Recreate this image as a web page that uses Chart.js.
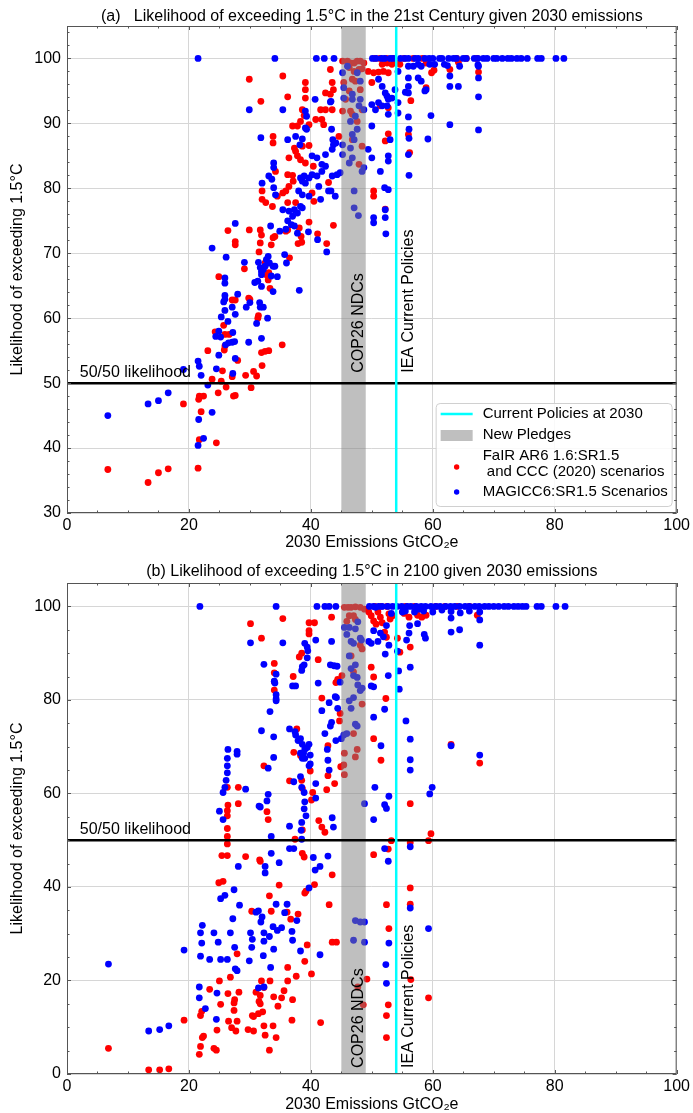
<!DOCTYPE html>
<html>
<head>
<meta charset="utf-8">
<script src="https://cdn.jsdelivr.net/npm/chart.js@4.4.1/dist/chart.umd.min.js"></script>
<style>
body{margin:0;background:#fff;}
canvas{display:block;}
</style>
</head>
<body>
<canvas id="chartA" width="693" height="556"></canvas>
<canvas id="chartB" width="693" height="557"></canvas>
<script>
// ticks
const xTicks = [0, 20, 40, 60, 80, 100];
const yTicksA = [30, 40, 50, 60, 70, 80, 90, 100];
const yTicksB = [0, 20, 40, 60, 80, 100];

// reference markers
const pledgeBand = [45, 49];
const currentPolicies = 54;
const fiftyFifty = 50;

const legendLabels = ['Current Policies at 2030', 'New Pledges', 'FaIR AR6 1.6:SR1.5', ' and CCC (2020) scenarios', 'MAGICC6:SR1.5 Scenarios'];

// (a) likelihood over the 21st century: [2030 emissions, likelihood %]
const fairA = [
[6.7,36.7],[13.3,34.7],[15.0,36.2],[16.6,36.8],[21.5,36.9],[19.1,46.8],[21.6,47.5],[21.7,48.0],[22.4,48.0],[22.0,45.6],[21.7,41.3],[24.5,40.8],[23.1,55.0],[23.8,50.6],[24.8,48.5],[25.3,50.3],[25.5,51.9],[26.1,49.4],[27.3,48.0],[27.6,48.1],[27.1,51.0],[28.0,53.5],[29.3,51.2],[30.6,51.8],[31.1,51.1],[30.2,49.3],[32.0,52.7],[31.9,54.7],[32.5,54.9],[33.1,55.0],[35.3,55.9],[24.3,57.9],[25.9,57.5],[25.7,58.9],[25.9,55.7],[25.8,55.1],[26.6,57.5],[27.1,62.8],[27.6,62.8],[30.0,62.9],[29.8,63.1],[31.3,60.0],[31.4,60.4],[24.9,66.4],[29.1,67.6],[27.6,71.8],[27.6,71.3],[26.4,73.5],[29.9,73.6],[31.7,73.6],[31.9,72.8],[31.7,71.6],[33.5,71.3],[33.8,72.4],[34.1,72.6],[31.5,70.2],[32.5,68.5],[32.7,66.7],[33.0,65.9],[33.3,64.6],[36.2,73.6],[38.1,73.9],[38.5,71.7],[37.9,71.5],[38.4,72.6],[41.1,73.0],[42.6,71.5],[43.7,74.3],[36.5,69.3],[33.1,67.0],
[29.9,96.8],[35.4,97.3],[31.8,93.4],[36.2,94.1],[43.2,98.3],[39.1,96.3],[39.1,95.2],[39.1,93.9],[42.4,94.7],[43.5,96.3],[43.7,95.2],[43.2,94.5],[41.6,92.1],[42.4,92.1],[43.5,92.1],[40.8,90.6],[41.8,90.6],[42.1,89.8],[38.6,92.1],[38.9,91.2],[38.3,90.3],[37.8,89.6],[37.0,89.6],[39.7,89.8],[33.8,88.0],[33.8,87.0],[37.3,86.2],[37.5,85.7],[37.8,85.0],[38.3,84.4],[39.1,83.9],[39.7,86.6],[38.6,86.5],[36.4,84.7],[34.2,82.6],[36.2,82.1],[37.0,82.0],[37.1,81.1],[36.4,80.3],[35.4,79.3],[34.5,78.8],[35.9,79.6],[36.2,77.8],[32.0,79.6],[32.0,78.3],[32.6,77.8],[33.7,77.2],[37.5,77.8],[40.5,78.0],[42.9,80.9],[35.9,73.4],[39.7,74.8],[40.2,79.3],[40.4,83.4],
[50.0,96.3],[51.4,92.7],[52.7,92.4],[52.7,88.4],[52.2,87.3],[56.0,88.3],[56.2,85.5],[50.3,79.6],[50.3,78.8],[52.2,76.8],[59.8,97.8],[62.8,98.3],[67.5,97.9],[49.4,98.0],[50.3,97.8],[51.1,97.9],[51.9,98.0],[52.7,97.8],[51.7,99.1],[52.5,99.3],[53.3,99.1],[54.1,99.3],[54.6,99.1],[58.9,99.3],[64.2,99.4],[56.4,93.5],[58.9,95.5],[60.2,98.2],
[45.2,99.6],[46.0,99.6],[46.5,99.3],[47.1,99.3],[47.6,99.6],[48.1,99.6],[48.7,99.3],[46.3,98.6],[47.1,98.0],[47.9,98.3],[48.4,98.4],[46.8,96.8],[45.4,96.3],[47.3,96.5],[46.3,95.0],[48.1,95.2],[45.7,93.7],[45.2,91.9],[46.5,91.9],[46.8,91.4],[48.4,92.1],[47.6,90.3],[48.4,86.5],[47.9,83.7],[44.6,88.0],[46.8,87.5],
[50.5,100],[51.3,100],[52.4,100],[53.5,100],[55.3,100],[56.8,100],[58.3,100],[63.9,100],[65.5,100],[67.2,100]
];

const magiccA = [
[6.7,45.0],[13.3,46.8],[15.0,47.3],[16.6,48.5],[19.1,52.1],[21.5,53.4],[21.7,52.6],[22.0,51.2],[23.1,49.7],[21.6,44.4],[23.8,45.5],[22.4,41.5],[21.5,40.4],[24.5,52.2],[24.9,54.3],[27.2,51.5],[27.6,53.8],[29.8,56.3],[31.9,56.9],[24.9,58.0],[24.4,57.2],[25.2,57.1],[26.0,55.9],[26.5,56.2],[27.1,56.3],[27.5,56.4],[27.2,57.8],[26.4,59.5],[25.3,60.2],[27.6,60.6],[25.9,61.2],[25.7,62.5],[25.9,62.9],[25.9,63.5],[27.1,61.7],[28.0,63.7],[29.4,61.7],[30.0,62.4],[31.1,59.2],[31.6,62.4],[31.7,61.7],[32.2,61.7],[32.9,60.0],[25.9,66.2],[25.9,65.4],[26.1,69.4],[23.8,70.8],[27.6,74.6],[29.1,68.6],[30.8,65.5],[31.3,65.7],[31.9,64.9],[31.4,68.6],[31.7,67.8],[31.9,67.2],[32.2,67.5],[32.5,68.0],[32.7,69.0],[33.0,69.5],[33.2,68.5],[33.5,66.5],[33.8,68.0],[34.1,68.0],[33.8,64.1],[31.9,66.7],[34.5,66.4],[33.4,74.2],[34.9,73.4],[35.7,69.8],[36.0,68.5],[38.1,64.3],[41.1,72.1],[42.6,70.2],[39.6,73.3],[36.2,75.0],[36.8,74.4],[37.3,74.2],
[21.5,100],[34.1,100],[40.9,100],[42.2,100],[43.8,100],[40.7,93.7],[43.2,93.3],[39.1,91.9],[39.3,91.1],[39.1,89.3],[39.3,89.1],[43.4,89.1],[29.9,92.1],[35.4,92.1],[31.8,87.8],[36.2,87.5],[37.5,88.0],[38.6,87.6],[38.2,86.7],[40.2,85.0],[41.0,84.7],[42.4,85.2],[43.5,86.0],[43.7,86.7],[41.8,83.7],[42.4,83.4],[41.8,82.6],[40.2,82.1],[41.0,81.9],[43.5,81.9],[44.3,82.1],[44.8,82.4],[38.9,81.9],[38.6,81.1],[39.1,80.8],[38.3,81.6],[39.7,81.6],[32.0,80.8],[33.1,81.9],[33.6,81.4],[33.9,80.1],[34.2,79.0],[33.9,83.9],[33.9,83.2],[38.0,79.6],[38.6,79.0],[39.7,78.8],[42.9,79.6],[41.3,80.3],[41.6,78.3],[37.3,76.7],[37.8,76.2],[38.3,77.2],[38.6,77.0],[36.4,76.5],[37.0,75.7],[35.4,76.7],[35.9,73.7],[37.8,73.1],
[56.0,98.8],[56.8,98.8],[57.6,99.1],[58.1,98.8],[59.5,99.1],[60.3,99.1],[61.9,99.1],[62.4,98.9],[64.4,98.8],[67.4,99.0],[67.5,98.8],[67.5,97.0],[67.5,94.1],[67.5,89.0],[62.8,97.3],[62.8,95.7],[64.2,95.7],[62.8,89.8],[59.7,91.2],[59.2,87.6],[58.7,95.0],[58.9,95.2],[57.6,97.0],[58.1,96.5],[56.0,97.0],[56.0,95.7],[56.0,94.7],[55.5,94.8],[56.0,91.0],[56.1,89.1],[56.1,87.7],[56.0,85.2],[56.1,82.0],[54.3,93.2],[54.3,91.6],[51.1,96.8],[51.7,95.7],[52.2,94.7],[52.5,94.2],[52.7,93.7],[53.3,93.9],[53.8,95.2],[52.5,92.7],[52.7,91.4],[51.7,92.7],[51.1,93.2],[50.0,92.9],[50.6,92.1],[50.0,89.6],[53.0,87.5],[52.7,85.0],[52.7,84.2],[51.4,82.6],[50.0,84.7],[49.4,86.0],[52.1,80.1],[52.7,79.8],[52.2,76.7],[52.2,75.5],[50.3,75.5],[50.3,74.7],[52.3,73.0],[54.3,98.0],
[46.0,98.8],[45.2,97.8],[47.6,97.8],[48.1,96.5],[45.4,95.5],[46.8,94.5],[45.4,93.9],[46.8,93.7],[48.1,93.7],[47.9,92.7],[48.7,92.1],[46.5,90.3],[47.3,91.1],[47.6,89.1],[46.8,88.3],[47.1,87.5],[45.2,86.7],[46.5,86.2],[45.2,85.2],[46.8,84.7],[46.3,83.9],[48.4,82.6],[48.7,83.2],[47.1,79.6],[47.1,77.0],[47.8,75.8],
[43.3,93.4],[43.6,87.5],[44.1,87.0],[43.3,79.6],[44.0,78.8],
[50.1,100],[50.7,100],[51.6,100],[52.1,100],[53.0,100],[53.5,100],[54.7,100],[55.4,100],[56.0,100],[57.1,100],[57.6,100],[58.7,100],[59.4,100],[60.0,100],[61.1,100],[61.5,100],[62.6,100],[63.4,100],[63.9,100],[65.0,100],[65.5,100],[66.8,100],[67.4,100],[68.3,100],[68.9,100],[70.0,100],[70.5,100],[71.4,100],[72.3,100],[72.9,100],[73.8,100],[74.5,100],[75.5,100],[77.2,100],[77.8,100],[80.2,100],[81.5,100]
];

// (b) likelihood in 2100
const fairB = [
[6.8,5.5],[13.4,0.9],[15.2,0.9],[16.7,1.1],[19.2,11.5],
[21.7,4.2],[21.9,5.9],[22.2,7.8],[22.4,8.1],[22.1,13.4],[21.9,12.5],[23.4,18.1],[24.1,5.5],[24.5,5.1],[24.6,9.4],[25.0,19.9],[25.2,14.9],
[24.9,40.9],[25.6,41.2],[25.4,46.7],[26.3,46.7],[26.3,49.2],[26.3,50.8],[26.3,52.5],[26.3,55.2],[26.4,57.5],[26.3,56.3],[26.3,61.3],[26.4,17.2],
[26.5,11.3],[26.8,20.7],[27.0,9.9],[27.4,15.2],[27.4,13.6],[27.5,15.9],[27.7,9.2],[27.9,11.3],[27.9,25.7],[28.1,61.3],[28.1,57.8],[28.2,17.5],
[29.3,46.5],[29.7,9.5],[30.1,96.3],[30.3,34.8],[30.4,12.5],[30.6,12.3],[30.6,9.2],[31.0,17.5],[31.4,12.9],[31.5,15.5],[31.7,16.8],[31.7,15.0],[31.9,19.9],[32.1,13.3],[32.3,18.5],[32.3,10.3],[32.5,8.3],
[31.6,45.8],[31.7,45.5],[31.9,93.2],[32.3,65.9],[32.8,56.1],[33.0,54.4],[33.2,5.1],[33.2,38.1],[33.3,19.9],[33.5,34.8],[33.8,10.3],[33.9,16.5],[34.0,87.8],[34.0,85.8],[34.0,83.9],[34.0,82.1],
[34.3,7.8],[34.6,14.5],[34.8,40.4],[35.2,16.3],[35.4,97.4],[35.6,17.8],[36.1,34.6],[36.2,19.9],[36.2,22.8],[36.5,62.7],[36.7,33.1],[36.9,11.5],[37.0,15.9],[37.1,85.0],[37.2,68.8],[37.4,50.2],[37.6,20.9],[37.7,73.8],[37.9,34.2],
[38.1,89.2],[38.5,90.0],[38.3,68.1],[38.5,62.8],[38.6,61.1],[38.6,52.2],[38.6,47.2],[38.9,46.4],[39.0,38.7],[39.0,24.1],[39.2,39.1],[39.4,27.6],[39.7,96.5],[39.7,94.8],[39.7,94.1],[39.9,64.8],[40.1,58.6],[40.1,21.4],[40.3,60.2],[40.6,40.5],[40.6,96.5],[41.2,88.6],[41.3,54.2],[41.6,11.0],[41.8,80.4],[41.8,52.8],[42.3,51.7],[42.6,60.8],[42.8,70.2],[42.8,63.8],[43.0,36.2],[43.4,97.7],[43.5,42.6],[43.5,28.2],[43.9,62.1],[44.2,28.2],
[44.1,83.7],[44.4,84.4],[44.7,75.5],[44.8,77.1],[44.9,65.7],[45.1,85.2],[45.4,66.1],[45.5,68.6],[45.5,64.0],
[45.5,99.8],[46.1,99.8],[46.6,99.8],[47.3,99.9],[48.1,99.8],[48.8,99.4],[45.9,96.8],[46.3,98.0],[47.0,98.0],[47.3,97.2],[46.6,89.4],[47.0,86.0],[48.1,91.7],[48.4,90.9],[47.0,72.8],[47.3,67.8],[47.6,69.4],[48.4,79.1],[47.7,18.6],[48.6,14.8],[49.2,20.3],
[49.5,98.8],[49.9,98.0],[50.3,96.9],[50.7,96.2],[51.0,98.8],[51.4,97.7],[51.7,96.5],[52.1,94.5],[52.4,93.4],[52.8,98.4],[53.0,97.3],[53.4,98.0],[49.9,87.0],[50.3,84.9],[50.3,71.7],[50.3,46.9],[51.5,67.1],[52.3,80.3],[52.4,7.8],[52.4,12.5],[52.7,14.8],[52.8,31.1],[53.2,49.9],[52.7,48.1],[52.4,36.2],
[54.2,93.2],[54.6,90.2],[55.3,98.5],[56.1,97.7],[56.3,91.3],[56.3,57.8],[56.3,49.5],[56.3,39.8],[56.3,36.3],[56.4,20.2],[57.5,98.1],[58.2,97.7],[58.9,98.1],[59.3,49.9],[59.7,51.4],[59.3,16.3],[63.0,70.5],[67.3,98.1],[67.7,66.5],
[50.5,100],[51.5,100],[52.5,100],[55.5,100],[57.0,100],[60.5,100],[62.0,100],[64.0,100],[66.0,100]
];

const magiccB = [
[6.8,23.5],[13.4,9.2],[15.2,9.5],[16.7,10.3],[19.2,26.5],[21.8,100],
[21.7,18.6],[21.7,16.3],[21.9,25.2],[22.1,28.0],[21.9,30.2],[22.2,31.8],[22.7,14.0],
[23.4,24.5],[24.1,30.2],[24.5,11.7],[24.6,17.3],[24.8,28.2],[25.2,24.5],[25.2,37.5],
[25.0,56.2],[25.6,54.4],[25.6,60.2],[25.9,61.3],[26.1,62.8],[26.3,64.4],[26.3,65.9],[26.3,67.5],[26.4,69.4],[25.9,38.2],
[26.3,24.5],[26.8,30.2],[27.2,33.2],[27.4,39.4],[27.5,27.1],[27.6,22.5],[27.9,22.1],[28.1,44.4],[28.3,36.1],[27.9,69.0],[27.9,68.4],
[29.3,60.9],[29.9,24.2],[30.1,30.2],[30.3,27.1],[30.4,28.8],[31.0,34.6],[31.4,34.9],[30.1,92.2],
[31.4,18.4],[31.8,32.5],[32.0,33.6],[32.2,25.3],[32.3,30.2],[32.3,28.4],[32.3,18.6],[32.5,44.4],[32.5,43.0],
[31.5,57.3],[31.7,57.1],[31.9,73.4],[32.3,87.6],[32.8,58.4],[33.0,59.8],[33.0,65.4],
[33.2,29.4],[33.4,22.8],[33.3,77.5],[33.5,47.2],[33.5,50.8],[33.8,31.5],[33.9,26.7],[33.9,72.1],[33.9,67.7],[34.0,84.0],[34.1,83.6],[34.3,85.5],[34.3,81.1],[34.3,80.2],[34.3,79.8],
[34.3,100],[34.3,36.3],[34.5,30.7],[34.8,45.2],[35.2,31.3],[35.4,92.2],
[35.7,34.5],[36.1,36.3],[36.5,53.0],[36.5,73.8],[36.5,48.2],[36.9,30.5],[37.0,28.6],[37.2,48.2],[37.2,62.5],[37.0,83.0],[37.5,83.0],[37.7,32.8],[37.4,73.2],
[37.5,72.5],[37.9,71.3],[38.3,71.7],[38.6,70.5],[38.3,68.6],[38.6,67.5],[38.8,68.6],[39.0,69.4],[39.4,69.8],[39.7,70.5],[39.7,65.9],[39.9,66.3],
[38.6,87.1],[38.9,87.5],[38.5,86.3],[39.0,92.1],[39.4,91.3],[39.4,89.0],[39.5,90.5],
[38.3,63.6],[38.5,61.3],[38.9,60.2],[39.0,58.2],[39.2,55.2],[38.5,53.8],[38.4,52.1],[38.5,50.2],[38.9,56.7],[39.0,67.5],
[38.3,26.3],[39.7,39.8],[39.9,68.2],[40.4,46.3],[40.7,43.6],[40.8,92.8],[40.8,59.0],[40.8,62.1],[41.2,83.6],[41.5,44.4],[41.5,25.5],
[41.8,77.7],[42.3,72.8],[42.7,69.4],[42.8,67.1],[43.0,65.0],[43.0,79.4],[43.2,74.4],[43.4,75.2],
[43.2,87.5],[43.4,92.5],[43.8,87.3],[44.0,80.7],[44.3,87.2],[44.2,80.5],[44.4,78.2],
[42.8,46.6],[43.5,54.8],[43.7,52.8],[44.1,71.3],[44.8,83.8],[45.0,71.7],[45.4,72.5],
[41.0,100],[42.3,100],[43.0,100],[44.1,100],
[45.5,95.5],[45.9,94.0],[46.3,95.5],[46.6,92.5],[47.0,92.1],[47.3,95.2],[47.7,96.7],[48.1,93.2],[48.3,92.8],[46.3,89.4],[46.6,86.7],[47.0,85.2],[47.3,87.5],[47.6,84.8],[47.7,83.2],[47.0,80.5],[46.6,78.2],[46.3,79.8],[47.3,74.8],[47.6,74.4],[45.9,72.8],[48.1,82.0],[48.4,82.5],[47.3,32.8],[48.1,32.5],[48.8,32.5],[47.0,28.6],[48.8,28.2],[48.8,57.8],
[49.5,92.5],[49.9,92.1],[50.3,94.8],[50.6,99.8],[51.0,92.5],[51.4,94.3],[51.9,93.5],[52.2,89.8],[52.4,95.9],[52.7,85.2],[52.8,91.7],[53.2,98.5],[50.3,82.8],[49.9,83.0],[50.3,76.3],[50.3,54.4],[50.5,61.3],[51.5,70.2],[52.1,78.0],[52.1,57.6],[52.4,56.8],[52.8,59.4],[52.1,48.2],[52.7,45.5],[52.8,28.0],[52.3,23.4],[52.4,19.4],
[54.2,90.4],[54.4,86.2],[54.5,82.3],[55.0,98.8],[55.6,75.5],[55.7,92.8],[56.1,94.3],[56.2,95.9],[56.3,87.0],[56.3,71.6],[56.3,67.2],[56.3,65.0],[56.3,48.6],[56.3,35.5],[57.5,96.3],[57.7,99.4],[58.6,94.0],[58.8,93.2],[59.5,59.9],[59.9,61.3],[59.3,31.1],[63.0,97.5],[63.0,94.5],[63.0,70.2],[64.4,95.0],[67.7,97.1],[67.7,91.7],[67.7,68.2],
[55.5,99.0],[57.0,98.8],[58.5,99.0],[60.0,98.8],[61.5,99.2],[63.0,98.9],[64.5,98.6],[66.0,99.0],[67.7,98.8],
[49.6,100],[50.3,100],[51.1,100],[51.7,100],[52.6,100],[53.4,100],[54.1,100],[54.9,100],[55.8,100],[56.4,100],[57.3,100],[58.1,100],[58.8,100],[59.7,100],[60.5,100],[61.2,100],[62.1,100],[62.9,100],[63.6,100],[64.4,100],[65.3,100],[66.0,100],[66.9,100],[67.6,100],[68.5,100],[69.2,100],[70.0,100],[70.8,100],[71.7,100],[72.4,100],[73.3,100],[74.0,100],[74.7,100],[75.3,100],[77.1,100],[77.8,100],[80.2,100],[81.7,100]
];

const FONT = '"Liberation Sans", Arial, sans-serif';
Chart.defaults.font.family = FONT;
Chart.defaults.color = '#000';

function vertText(ctx, text, px, py) {
  ctx.save();
  ctx.translate(px, py);
  ctx.rotate(-Math.PI / 2);
  ctx.textAlign = 'left';
  ctx.textBaseline = 'middle';
  ctx.fillText(text, 0, 0);
  ctx.restore();
}

const overlayPlugin = {
  id: 'overlay',
  afterDatasetsDraw(chart) {
    const o = chart.options.plugins.overlay;
    const {ctx, chartArea: a, scales: {x, y}} = chart;
    ctx.save();
    ctx.beginPath();
    ctx.rect(a.left, a.top, a.width, a.height);
    ctx.clip();
    const b0 = x.getPixelForValue(pledgeBand[0]);
    const b1 = x.getPixelForValue(pledgeBand[1]);
    ctx.fillStyle = 'rgba(128,128,128,0.5)';
    ctx.fillRect(b0, a.top, b1 - b0, a.height);
    const hy = y.getPixelForValue(fiftyFifty);
    ctx.strokeStyle = '#000';
    ctx.lineWidth = 2.5;
    ctx.beginPath(); ctx.moveTo(a.left, hy); ctx.lineTo(a.right, hy); ctx.stroke();
    const cx = x.getPixelForValue(currentPolicies);
    ctx.strokeStyle = '#00ffff';
    ctx.beginPath(); ctx.moveTo(cx, a.top); ctx.lineTo(cx, a.bottom); ctx.stroke();
    ctx.restore();

    ctx.save();
    ctx.fillStyle = '#000';
    ctx.font = '16px ' + FONT;
    ctx.textAlign = 'left';
    ctx.textBaseline = 'alphabetic';
    ctx.fillText('50/50 likelihood', x.getPixelForValue(2.1), hy - 6);
    vertText(ctx, 'COP26 NDCs', x.getPixelForValue(47.9), y.getPixelForValue(o.textY));
    vertText(ctx, 'IEA Current Policies', x.getPixelForValue(56.0), y.getPixelForValue(o.textY));
    ctx.restore();
  },
  afterDraw(chart) {
    const o = chart.options.plugins.overlay;
    const {ctx, chartArea: a, scales: {x, y}} = chart;
    ctx.save();
    // frame and inward ticks
    ctx.strokeStyle = '#555';
    ctx.lineWidth = 1;
    ctx.strokeRect(a.left + 0.5, a.top + 0.5, a.width - 1, a.height - 1);
    ctx.beginPath();
    for (let v = 0; v <= 100; v += 5) {
      const px = Math.round(x.getPixelForValue(v)) + 0.5;
      const len = v % 20 === 0 ? 4 : 2.5;
      ctx.moveTo(px, a.bottom); ctx.lineTo(px, a.bottom - len);
      ctx.moveTo(px, a.top); ctx.lineTo(px, a.top + len);
    }
    for (let v = y.min; v <= y.max; v += o.yMinor) {
      const py = Math.round(y.getPixelForValue(v)) + 0.5;
      const len = v % o.yMajor === 0 ? 4 : 2.5;
      ctx.moveTo(a.left, py); ctx.lineTo(a.left + len, py);
      ctx.moveTo(a.right, py); ctx.lineTo(a.right - len, py);
    }
    ctx.stroke();
    // title
    ctx.fillStyle = '#000';
    ctx.font = '16px ' + FONT;
    ctx.textAlign = 'center';
    ctx.textBaseline = 'middle';
    ctx.fillText(o.title, (a.left + a.right) / 2, o.titleY);

    if (o.legend) {
      const w = 236, h = 103;
      const L = a.right - 5 - w, T = a.bottom - 7 - h;
      ctx.fillStyle = 'rgba(255,255,255,0.85)';
      ctx.strokeStyle = '#d0d0d0';
      ctx.beginPath();
      ctx.roundRect(L + 0.5, T + 0.5, w, h, 4);
      ctx.fill(); ctx.stroke();
      ctx.strokeStyle = '#00ffff';
      ctx.lineWidth = 2.5;
      ctx.beginPath(); ctx.moveTo(L + 5, T + 11); ctx.lineTo(L + 37, T + 11); ctx.stroke();
      ctx.fillStyle = 'rgba(128,128,128,0.5)';
      ctx.fillRect(L + 5, T + 27, 32, 11);
      ctx.fillStyle = '#ff0000';
      ctx.beginPath(); ctx.arc(L + 21, T + 64, 2.7, 0, Math.PI * 2); ctx.fill();
      ctx.fillStyle = '#0000ff';
      ctx.beginPath(); ctx.arc(L + 21, T + 89, 2.7, 0, Math.PI * 2); ctx.fill();
      ctx.fillStyle = '#000';
      ctx.font = '15px ' + FONT;
      ctx.textAlign = 'left';
      ctx.fillText(legendLabels[0], L + 47, T + 11);
      ctx.fillText(legendLabels[1], L + 47, T + 32);
      ctx.fillText(legendLabels[2], L + 47, T + 53);
      ctx.fillText(legendLabels[3], L + 47, T + 69);
      ctx.fillText(legendLabels[4], L + 47, T + 89);
    }
    ctx.restore();
  }
};

function makeChart(id, red, blue, yTicks, yMin, p) {
  return new Chart(document.getElementById(id), {
    type: 'scatter',
    data: {
      datasets: [
        {label: 'MAGICC6:SR1.5 Scenarios', data: blue, order: 1,
         pointRadius: 3.4, pointHoverRadius: 3.4, pointBackgroundColor: '#0000ff', pointBorderWidth: 0},
        {label: 'FaIR AR6 1.6:SR1.5 and CCC (2020) scenarios', data: red, order: 2,
         pointRadius: 3.4, pointHoverRadius: 3.4, pointBackgroundColor: '#ff0000', pointBorderWidth: 0}
      ]
    },
    options: {
      responsive: false,
      animation: false,
      devicePixelRatio: 1,
      layout: {padding: {top: p.top, right: 13, left: 0, bottom: 0}},
      plugins: {
        legend: {display: false},
        tooltip: {enabled: false},
        overlay: p
      },
      scales: {
        x: {
          type: 'linear', min: 0, max: 100,
          afterBuildTicks: ax => { ax.ticks = xTicks.map(v => ({value: v})); },
          afterFit: ax => { ax.height = p.xh; },
          ticks: {font: {size: 16}, padding: 3, color: '#000'},
          grid: {color: '#d6d6d6', drawTicks: false},
          border: {display: false},
          title: {display: true, text: '2030 Emissions GtCO\u2082e', font: {size: 16, lineHeight: 1},
                  padding: {top: 0, bottom: p.xtb}, color: '#000'}
        },
        y: {
          type: 'linear', min: yMin, max: 105,
          afterBuildTicks: ax => { ax.ticks = yTicks.map(v => ({value: v})); },
          afterFit: ax => { ax.width = 67; },
          ticks: {font: {size: 16}, padding: 6, color: '#000'},
          grid: {color: '#d6d6d6', drawTicks: false},
          border: {display: false},
          title: {display: true, text: 'Likelihood of exceeding 1.5\u00b0C', font: {size: 16, lineHeight: 1},
                  padding: {top: 10, bottom: 0}, color: '#000'}
        }
      }
    },
    plugins: [overlayPlugin]
  });
}

makeChart('chartA', fairA, magiccA, yTicksA, 30, {
  top: 26, xh: 43, xtb: 5, yMinor: 2, yMajor: 10, textY: 51.6, titleY: 17, legend: true,
  title: '(a)   Likelihood of exceeding 1.5\u00b0C in the 21st Century given 2030 emissions'
});
makeChart('chartB', fairB, magiccB, yTicksB, 0, {
  top: 27, xh: 39, xtb: 0, yMinor: 5, yMajor: 20, textY: 1.3, titleY: 16, legend: false,
  title: '(b) Likelihood of exceeding 1.5\u00b0C in 2100 given 2030 emissions'
});
</script>
</body>
</html>
